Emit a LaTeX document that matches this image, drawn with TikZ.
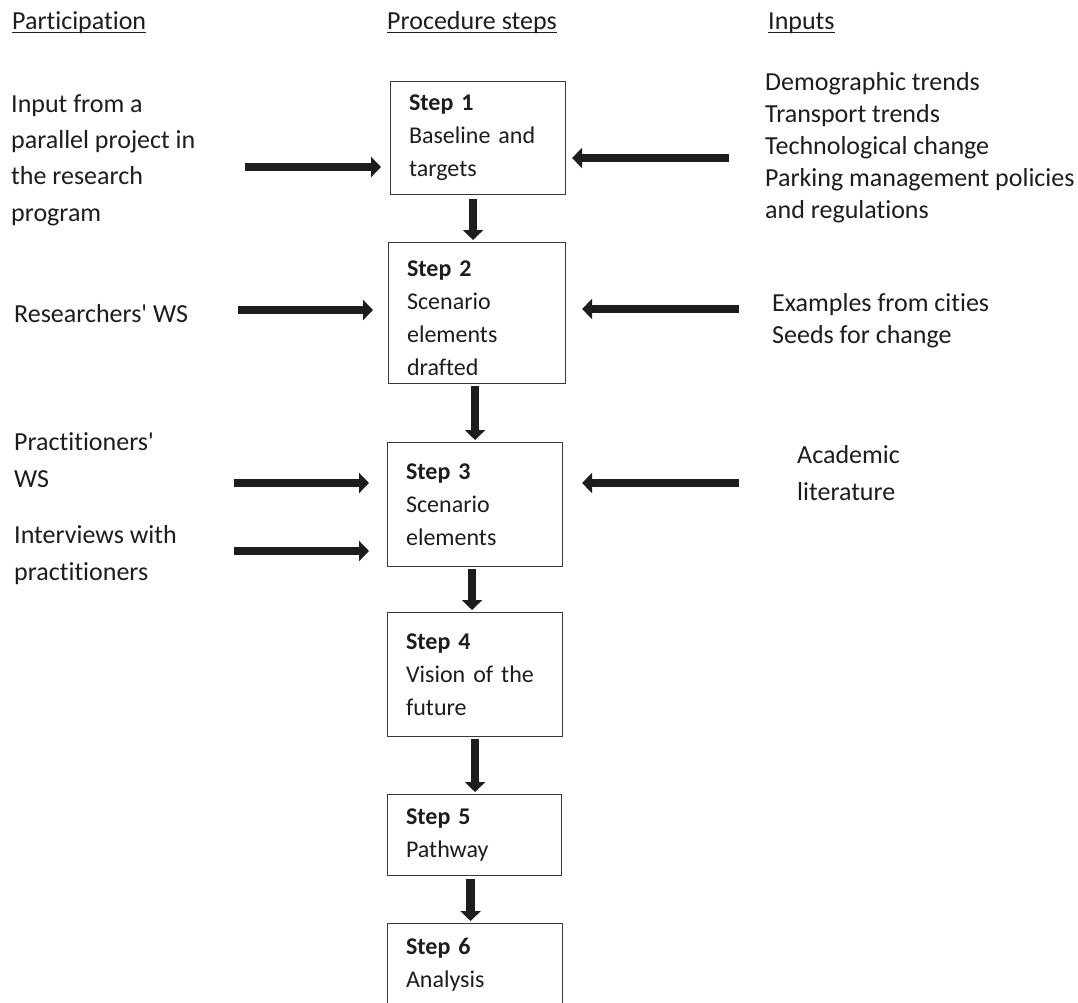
\documentclass[tikz,border=0pt]{standalone}
\usepackage{fontspec}
\setmainfont{Carlito}[Ligatures={NoCommon}]
\usetikzlibrary{arrows.meta}
\definecolor{ink}{HTML}{1E1C1D}
\definecolor{boxline}{HTML}{3A3A3A}
\newcommand{\sq}{\textquotesingle}
\begin{document}
\begin{tikzpicture}[x=1pt,y=-1pt,
  txt/.style={inner sep=0pt, anchor=base west, align=left, text=ink},
  sp36/.style={font={\fontsize{26}{36.2}\selectfont}},
  sp32/.style={font={\fontsize{26}{31.8}\selectfont}},
  hdr/.style={inner sep=0pt, anchor=base west, text=ink, font={\fontsize{26}{30}\selectfont}},
  stepbox/.style={draw=boxline, line width=1.1pt, anchor=north west, align=left,
     inner xsep=18.5pt, inner ysep=0pt, text=ink, font={\fontsize{24}{33}\selectfont}},
  arr/.style={draw=ink, line width=8.5pt, -{Triangle[width=20pt,length=10pt]}},
  uline/.style={draw=ink, line width=1.4pt}
]
\useasboundingbox (0,0) rectangle (1078,1002);
\fill[white] (0,0) rectangle (1078,1002);

% headers
\node[hdr] (h1) at (12,29) {Participation};
\node[hdr] (h2) at (387,29) {Procedure steps};
\node[hdr] (h3) at (768,29) {Inputs};
\foreach \h in {h1,h2,h3}
  \draw[uline] ([yshift=-3.5pt]\h.base west) -- ([yshift=-3.5pt]\h.base east);

% step boxes
\node[stepbox, minimum height=113pt, text width=138pt] (s1) at (390,81)
  {\textbf{Step 1}\\Baseline and\\targets};
\node[stepbox, minimum height=141pt, text width=140pt] (s2) at (388,242)
  {\rule{0pt}{27pt}\textbf{Step 2}\\Scenario\\elements\\drafted};
\node[stepbox, minimum height=124pt, text width=138pt] (s3) at (387,442)
  {\textbf{Step 3}\\Scenario\\elements};
\node[stepbox, minimum height=124pt, text width=138pt] (s4) at (387,612)
  {\textbf{Step 4}\\Vision of the\\future};
\node[stepbox, minimum height=81pt, text width=137pt] (s5) at (387,794)
  {\textbf{Step 5}\\Pathway};
\node[stepbox, minimum height=82pt, text width=138pt] (s6) at (387,923)
  {\textbf{Step 6}\\Analysis};

% participation texts (anchor = baseline of last line)
\node[txt, sp36] (p1) at (11,221) {Input from a\\parallel project in\\the research\\program};
\node[txt, sp36] (p2) at (14,322) {Researchers\sq{} WS};
\node[txt, sp36] (p3) at (14,487) {Practitioners\sq\\WS};
\node[txt, sp36] (p4) at (14,580) {Interviews with\\practitioners};

% input texts
\node[txt, sp32] (i1) at (765,218) {Demographic trends\\Transport trends\\Technological change\\Parking management policies\\and regulations};
\node[txt, sp32] (i2) at (772,343) {Examples from cities\\Seeds for change};
\node[txt, sp36] (i3) at (797,500) {Academic\\literature};

% vertical arrows
\draw[arr, shorten <=4pt, shorten >=2pt] ([xshift=-5pt]s1.south) -- ([xshift=-5pt]s1.south |- s2.north);
\draw[arr, shorten <=2pt, shorten >=2pt] ([xshift=-2pt]s2.south) -- ([xshift=-2pt]s2.south |- s3.north);
\draw[arr, shorten <=2pt, shorten >=2pt] ([xshift=-3pt]s3.south) -- ([xshift=-3pt]s3.south |- s4.north);
\draw[arr, shorten <=2pt, shorten >=2pt] (s4.south) -- (s4.south |- s5.north);
\draw[arr, shorten <=3pt, shorten >=2pt] ([xshift=-4pt]s5.south) -- ([xshift=-4pt]s5.south |- s6.north);

% free ends of horizontal arrows
\coordinate (l1) at (245,167);
\coordinate (l2) at (238,310);
\coordinate (l3) at (234,483);
\coordinate (l4) at (234,551);
\coordinate (r1) at (729,158);
\coordinate (r2) at (739,309);
\coordinate (r3) at (739,483);

\draw[arr, shorten >=9pt] (l1) -- (l1 -| s1.west);
\draw[arr, shorten >=15pt] (l2) -- (l2 -| s2.west);
\draw[arr, shorten >=18pt] (l3) -- (l3 -| s3.west);
\draw[arr, shorten >=18pt] (l4) -- (l4 -| s3.west);
\draw[arr, shorten >=6pt] (r1) -- (r1 -| s1.east);
\draw[arr, shorten >=16pt] (r2) -- (r2 -| s2.east);
\draw[arr, shorten >=19pt] (r3) -- (r3 -| s3.east);
\end{tikzpicture}
\end{document}
